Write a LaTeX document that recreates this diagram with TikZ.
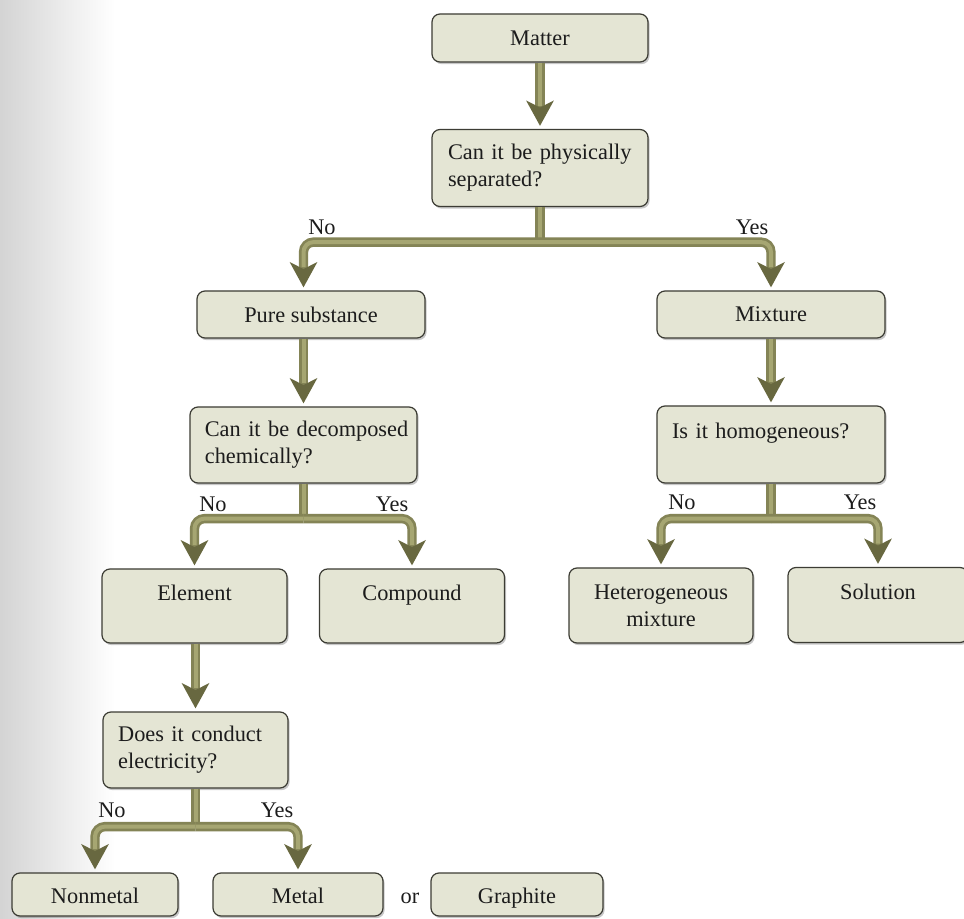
\documentclass[tikz,border=0pt]{standalone}
\usepackage{fontspec}
\setmainfont{Liberation Serif}
\usetikzlibrary{arrows.meta,calc,shadows}
\newdimen\pxu \pxu=0.75pt
\definecolor{boxfill}{RGB}{228,229,212}
\definecolor{boxline}{RGB}{60,60,52}
\definecolor{olivedk}{RGB}{104,104,64}
\definecolor{olivemd}{RGB}{132,132,86}
\definecolor{olivelt}{RGB}{166,166,114}
\definecolor{txt}{RGB}{28,28,28}
\newcommand\chartfont{\fontsize{16.75pt}{20.25pt}\selectfont\hyphenpenalty=10000}
\newcommand\arrowpath[1]{\draw[flow] #1; \draw[flowcore] #1;}
\begin{document}
\begin{tikzpicture}[x=0.75pt,y=-0.75pt,
  box/.style={draw=boxline, line width=0.9pt, fill=boxfill, rounded corners=6pt,
    inner sep=0pt, font=\chartfont, text=txt,
    drop shadow={shadow xshift=1.2pt, shadow yshift=-1.6pt, opacity=0.22, fill=black}},
  qbox/.style={box, align=left},
  cbox/.style={box, align=center},
  lowbox/.style={box, minimum height=43\pxu, text height=13pt, text depth=0pt},
  lab/.style={font=\chartfont, text=txt, inner sep=0pt, anchor=base},
  flow/.style={draw=olivemd, line width=7pt, rounded corners=7.5pt, shorten >=2.25pt,
    -{Stealth[width=20.25pt,length=18.75pt,inset=5pt,color=olivedk]}},
  flowcore/.style={draw=olivelt, line width=3pt, rounded corners=7.5pt, shorten >=17.5pt},
  stemline/.style={draw=olivemd, line width=7pt},
  stemcore/.style={draw=olivelt, line width=3pt}]
\useasboundingbox (0,0) rectangle (964,919);
\fill[white] (0,0) rectangle (964,919);
\shade[left color=black!17, right color=white] (0,0) rectangle (115,919);

% nodes
\node[cbox, minimum width=216\pxu, minimum height=48\pxu] (matter) at (540,38) {Matter};
\node[qbox, minimum width=216\pxu, minimum height=77\pxu, text width=138pt] (q1) at (540,168)
  {\mbox{Can it be physically}\\separated?};
\node[cbox, minimum width=228\pxu, minimum height=47\pxu] (pure) at (311,314.5) {Pure substance};
\node[cbox, minimum width=228\pxu, minimum height=47\pxu] (mix) at (771,314.5) {Mixture};
\node[qbox, minimum width=227\pxu, minimum height=76\pxu, text width=148pt] (q2) at (303.5,445)
  {\mbox{Can it be decomposed}\\chemically?};
\node[qbox, minimum width=228\pxu, minimum height=77\pxu, text width=148.5pt] (q3) at (771,444.5)
  {\mbox{Is it homogeneous?}\\\mbox{}};
\node[cbox, minimum width=185\pxu, minimum height=74\pxu] (elem) at (194.5,606) {Element\\\mbox{}};
\node[cbox, minimum width=185\pxu, minimum height=74\pxu] (comp) at (412,606) {Compound\\\mbox{}};
\node[cbox, minimum width=184\pxu, minimum height=75\pxu] (het) at (661,605.5) {Heterogeneous\\mixture};
\node[cbox, minimum width=180\pxu, minimum height=75\pxu] (sol) at (878,605) {Solution\\\mbox{}};
\node[qbox, minimum width=185\pxu, minimum height=76\pxu, text width=116pt] (q4) at (195.5,750)
  {\mbox{Does it conduct}\\electricity?};
\node[lowbox, minimum width=166\pxu] (nonm) at (95,894.5) {Nonmetal};
\node[lowbox, minimum width=170\pxu] (metal) at (298,894.5) {Metal};
\node[font=\chartfont, text=txt, inner sep=0pt, text height=13pt, text depth=0pt] (or) at (410,894.5) {or};
\node[lowbox, minimum width=172\pxu] (graph) at (517,894.5) {Graphite};

% branch points
\coordinate (b1) at ($(q1.south)+(0,35)$);
\coordinate (b2) at ($(q2.south)+(0,35)$);
\coordinate (b3) at ($(q3.south)+(0,35)$);
\coordinate (b4) at ($(q4.south)+(0,38)$);

% stems
\foreach \q/\b in {q1/b1,q2/b2,q3/b3,q4/b4}{\draw[stemline] (\q.south) -- (\b);}
\foreach \q/\b in {q1/b1,q2/b2,q3/b3,q4/b4}{\draw[stemcore] (\q.south) -- (\b);}

% arrows
\arrowpath{(matter.south) -- (q1.north)}
\arrowpath{(b1) -| (pure.north -| q2.north)}
\arrowpath{(b1) -| (mix.north)}
\arrowpath{(pure.south -| q2.north) -- (q2.north)}
\arrowpath{(mix.south) -- (q3.north)}
\arrowpath{(b2) -| (elem.north)}
\arrowpath{(b2) -| (comp.north)}
\arrowpath{(b3) -| (het.north)}
\arrowpath{(b3) -| (sol.north)}
\arrowpath{(elem.south -| q4.north) -- (q4.north)}
\arrowpath{(b4) -| (nonm.north)}
\arrowpath{(b4) -| (metal.north)}

% labels
\node[lab] (no1) at (322,235) {No};
\node[lab] (yes1) at (752,235) {Yes};
\node[lab] (no2) at (213,512) {No};
\node[lab] (yes2) at (392,512) {Yes};
\node[lab] (no3) at (682,510) {No};
\node[lab] (yes3) at (860,510) {Yes};
\node[lab] (no4) at (112,817) {No};
\node[lab] (yes4) at (277,817) {Yes};
\end{tikzpicture}
\end{document}
